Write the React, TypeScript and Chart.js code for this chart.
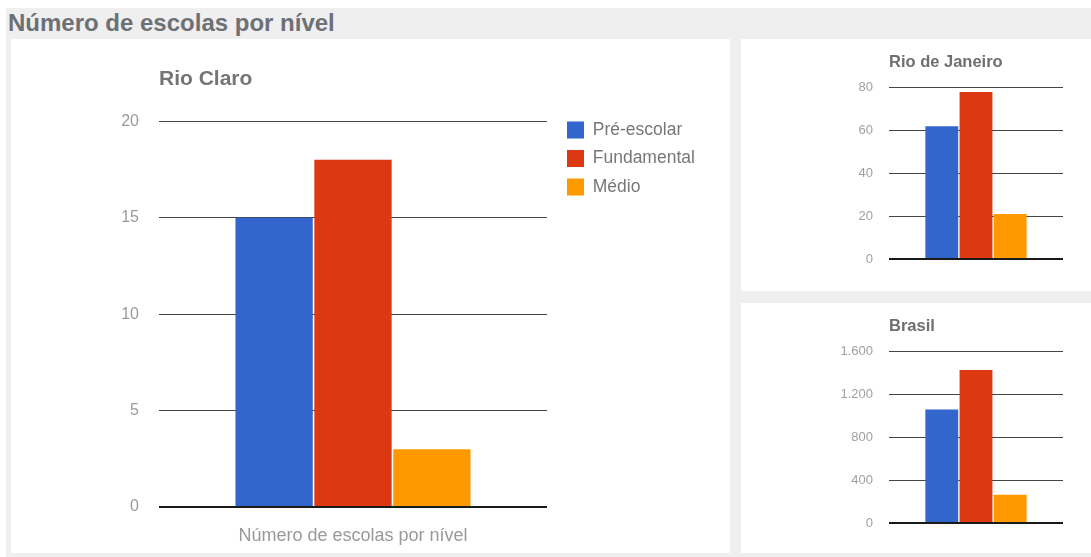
import React, { useEffect, useRef } from 'react';
import { Chart, registerables } from 'chart.js';

Chart.register(...registerables);

// ---- data ----
const pageTitle = 'Número de escolas por nível';
const seriesNames = ['Pré-escolar', 'Fundamental', 'Médio'];
const seriesColors = ['#3366cc', '#dc3912', '#ff9900'];
const mainCategories = ['Número de escolas por nível'];
const smallCategories = [''];
const rioClaroValues = [15, 18, 3];
const rioJaneiroValues = [62, 78, 21];
const brasilValues = [1060, 1430, 265];
const rioClaroScale = [0, 20, 5];
const rioJaneiroScale = [0, 80, 20];
const brasilScale = [0, 1600, 400];

const FONT = 'Arial, "Liberation Sans", sans-serif';

function fmtPt(v: number | string) {
  return String(v).replace(/\B(?=(\d{3})+(?!\d))/g, '.');
}

function makeDatasets(values: number[], bp: number, cp: number) {
  return seriesNames.map((name, i) => ({
    label: name,
    data: [values[i]],
    backgroundColor: seriesColors[i],
    borderWidth: 0,
    barPercentage: bp,
    categoryPercentage: cp,
  }));
}

function gridOpts() {
  return {
    drawTicks: false,
    color: (ctx: any) => (ctx.tick && ctx.tick.value === 0 ? '#1a1a1a' : '#444444'),
    lineWidth: (ctx: any) => (ctx.tick && ctx.tick.value === 0 ? 2 : 1),
  };
}

const legendPlacer = {
  id: 'legendPlacer',
  afterLayout(chart: any) {
    const lg = chart.legend;
    const ca = chart.chartArea;
    if (!lg) return;
    lg.left = ca.right + 9;
    lg.top = ca.top - 11;
    lg.right = lg.left + 200;
    lg.bottom = lg.top + 200;
  },
};

function mainConfig(): any {
  return {
    type: 'bar',
    data: { labels: mainCategories, datasets: makeDatasets(rioClaroValues, 0.98, 0.61) },
    plugins: [legendPlacer],
    options: {
      responsive: false,
      animation: false,
      devicePixelRatio: 1,
      layout: { padding: { left: 0, right: 183, top: 0, bottom: 0 } },
      plugins: {
        title: {
          display: true,
          text: 'Rio Claro',
          align: 'start',
          fullSize: false,
          color: '#757575',
          font: { family: FONT, size: 21, weight: 'bold' },
          padding: { top: 28, bottom: 29 },
        },
        legend: {
          display: true,
          position: 'chartArea',
          align: 'start',
          labels: {
            boxWidth: 17,
            boxHeight: 17,
            padding: 11,
            color: '#777777',
            font: { family: FONT, size: 17.5 },
          },
        },
        tooltip: { enabled: false },
      },
      scales: {
        x: {
          grid: { display: false },
          border: { display: false },
          ticks: { color: '#999999', font: { family: FONT, size: 18 }, padding: 10 },
          afterFit: (s: any) => { s.height = 46; },
        },
        y: {
          min: rioClaroScale[0],
          max: rioClaroScale[1],
          border: { display: false },
          grid: gridOpts(),
          ticks: { stepSize: rioClaroScale[2], color: '#9a9a9a', font: { family: FONT, size: 16 }, padding: 20 },
          afterFit: (s: any) => { s.width = 148; },
        },
      },
    },
  };
}

function smallConfig(title: string, values: number[], scale: number[], bottomPad: number): any {
  return {
    type: 'bar',
    data: { labels: smallCategories, datasets: makeDatasets(values, 0.96, 0.59) },
    options: {
      responsive: false,
      animation: false,
      devicePixelRatio: 1,
      layout: { padding: { left: 0, right: 28, top: 0, bottom: bottomPad } },
      plugins: {
        title: {
          display: true,
          text: title,
          align: 'start',
          fullSize: false,
          color: '#6f6f6f',
          font: { family: FONT, size: 16.5, weight: 'bold' },
          padding: { top: 14, bottom: 15 },
        },
        legend: { display: false },
        tooltip: { enabled: false },
      },
      scales: {
        x: { display: false },
        y: {
          min: scale[0],
          max: scale[1],
          border: { display: false },
          grid: gridOpts(),
          ticks: {
            stepSize: scale[2],
            color: '#a0a0a0',
            font: { family: FONT, size: 13 },
            padding: 16,
            callback: (v: any) => fmtPt(v),
          },
          afterFit: (s: any) => { s.width = 148; },
        },
      },
    },
  };
}

function ChartCanvas({ config, left, top, width, height }: any) {
  const ref = useRef<HTMLCanvasElement | null>(null);
  useEffect(() => {
    if (!ref.current) return;
    const chart = new Chart(ref.current, config());
    return () => chart.destroy();
  }, []);
  return (
    <div style={{ position: 'absolute', left, top, width, height, background: '#ffffff' }}>
      <canvas ref={ref} width={width} height={height} style={{ display: 'block', width, height }} />
    </div>
  );
}

export default function App() {
  return (
    <div style={{ position: 'fixed', left: 0, top: 0, width: 1091, height: 557, background: '#ffffff', overflow: 'hidden' }}>
      <div style={{ position: 'absolute', left: 6, top: 8, width: 1085, height: 549, background: '#efefef' }} />
      <div
        style={{
          position: 'absolute',
          left: 8,
          top: 8,
          height: 30,
          lineHeight: '30px',
          fontFamily: FONT,
          fontWeight: 'bold',
          fontSize: 24,
          color: '#6d7075',
          whiteSpace: 'nowrap',
        }}
      >
        {pageTitle}
      </div>
      <ChartCanvas config={mainConfig} left={11} top={39} width={719} height={514} />
      <ChartCanvas
        config={() => smallConfig('Rio de Janeiro', rioJaneiroValues, rioJaneiroScale, 32)}
        left={741}
        top={39}
        width={350}
        height={252}
      />
      <ChartCanvas
        config={() => smallConfig('Brasil', brasilValues, brasilScale, 30)}
        left={741}
        top={303}
        width={350}
        height={250}
      />
    </div>
  );
}
